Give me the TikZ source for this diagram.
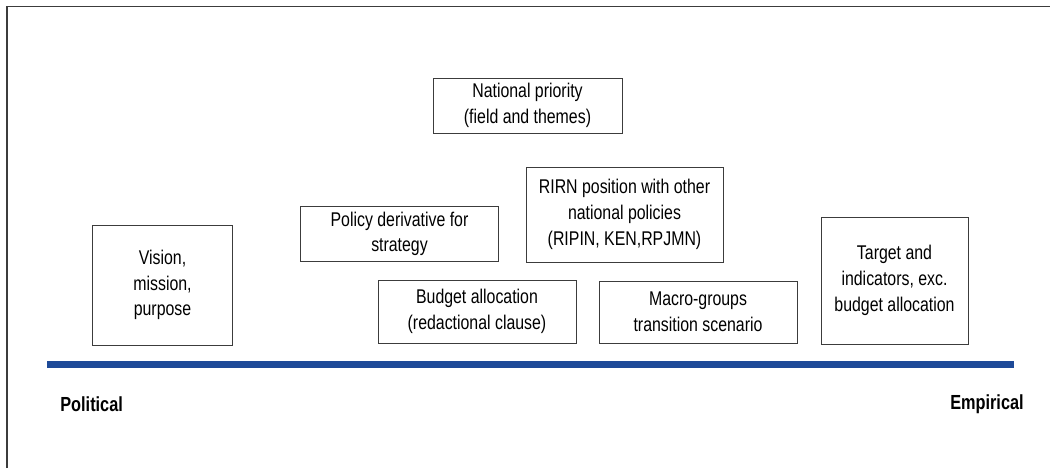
\documentclass[tikz,border=0pt]{standalone}
\usepackage{fontspec}
\setmainfont{Liberation Sans}[FakeStretch=0.8]
\usetikzlibrary{positioning}
\definecolor{axisblue}{RGB}{30,74,152}
\definecolor{framegray}{RGB}{60,60,60}
\tikzset{
    % Plain framed box holding one policy element
    element/.style={
        draw=framegray, thin, rectangle, align=center, inner sep=2pt,
        font=\fontsize{11.3}{14.6}\selectfont},
%
    % Bold end labels of the axis
    pole/.style={font=\fontsize{11.6}{12}\selectfont\bfseries, inner sep=0}}

\begin{document}
\begin{tikzpicture}[x=0.02cm, y=-0.02cm]
\useasboundingbox (0,0) rectangle (1050,468);

% Outer frame, only top and left edges show
\draw[framegray, line width=1pt] (7,468) -- (7,6.5) -- (1050,6.5);

% Top row
\node[element, minimum width=3.78cm, minimum height=1.1cm]
    (priority) at (527.5,105.5) {National priority\\(field and themes)};

% Middle row
\node[element, minimum width=2.79cm, minimum height=2.4cm]
    (vision) at (162.5,285) {Vision,\\mission,\\purpose};
\node[element, minimum width=3.95cm, minimum height=1.1cm]
    (policy) at (399.5,234) {Policy derivative for\\strategy};
\node[element, minimum width=3.94cm, minimum height=1.9cm]
    (rirn) at (624.5,214.5) {RIRN position with other\\national policies\\(RIPIN, KEN,RPJMN)};
\node[element, minimum width=2.94cm, minimum height=2.54cm]
    (target) at (894.5,280.5) {Target and\\indicators, exc.\\budget allocation};

% Bottom row, resting just above the axis
\node[element, minimum width=3.96cm, minimum height=1.26cm]
    (budget) at (477,311.5) {Budget allocation\\(redactional clause)};
\node[element, minimum width=3.96cm, minimum height=1.24cm]
    (macro) at (698,312) {Macro-groups\\transition scenario};

% The axis from political to empirical
\fill[axisblue] (47,361) rectangle (1014,368.3);
\node[pole, anchor=west] (political) at (60,404) {Political};
\node[pole, anchor=east] (empirical) at (1024,404) {Empirical};

\end{tikzpicture}
\end{document}
